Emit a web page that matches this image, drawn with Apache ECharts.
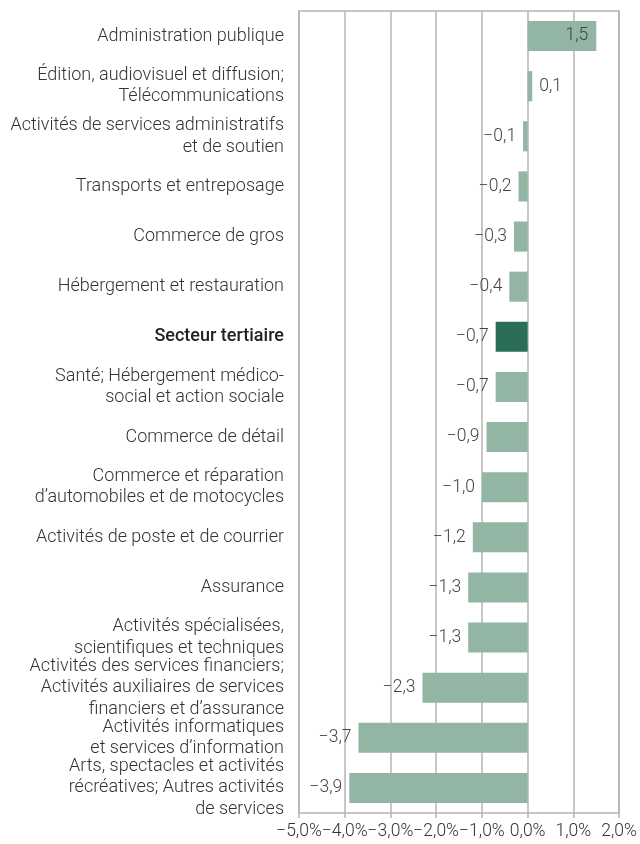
<!DOCTYPE html>
<html>
<head>
<meta charset="utf-8">
<script src="https://cdn.jsdelivr.net/npm/echarts@6/dist/echarts.min.js"></script>
<style>
  html, body { margin: 0; padding: 0; background: #fff; }
  #chart { width: 640px; height: 844px; }
</style>
</head>
<body>
<div id="chart"></div>
<script>
// secteurs, du haut vers le bas
var categories = [
    'Administration publique',
    'Édition, audiovisuel et diffusion;\nTélécommunications',
    'Activités de services administratifs\net de soutien',
    'Transports et entreposage',
    'Commerce de gros',
    'Hébergement et restauration',
    'Secteur tertiaire',
    'Santé; Hébergement médico-\nsocial et action sociale',
    'Commerce de détail',
    'Commerce et réparation\nd’automobiles et de motocycles',
    'Activités de poste et de courrier',
    'Assurance',
    'Activités spécialisées,\nscientifiques et techniques',
    'Activités des services financiers;\nActivités auxiliaires de services\nfinanciers et d’assurance',
    'Activités informatiques\net services d’information',
    'Arts, spectacles et activités\nrécréatives; Autres activités\nde services'
];
var values = [1.5, 0.1, -0.1, -0.2, -0.3, -0.4, -0.7, -0.7, -0.9, -1.0, -1.2, -1.3, -1.3, -2.3, -3.7, -3.9];
var highlight = 'Secteur tertiaire';

function frNum(v, d) {
    return v.toFixed(d).replace('.', ',').replace('-', '\u2212');
}

var barData = values.map(function (v, i) {
    var item = { value: v };
    if (categories[i] === highlight) {
        item.itemStyle = { color: '#2a6e58' };
    }
    if (v > 1) {
        item.label = { position: 'insideRight', distance: 8 };
    } else if (v >= 0) {
        item.label = { position: 'right' };
    } else {
        item.label = { position: 'left' };
    }
    return item;
});

var myChart = echarts.init(document.getElementById('chart'));
var option = {
    animation: false,
    textStyle: { fontFamily: 'Roboto' },
    grid: {
        left: 299, right: 20, top: 11, bottom: 31,
        show: true,
        borderColor: '#b4b4b4',
        borderWidth: 1.5
    },
    xAxis: {
        type: 'value',
        min: -5, max: 2, interval: 1,
        axisLine: { show: false },
        axisTick: { show: true, length: 5, lineStyle: { color: '#b4b4b4', width: 1.5 } },
        splitLine: { show: true, lineStyle: { color: '#b4b4b4', width: 1.5 } },
        axisLabel: {
            color: '#333', fontSize: 17.5, fontWeight: 300, margin: 10,
            hideOverlap: false, showMinLabel: true, showMaxLabel: true,
            formatter: function (v) { return frNum(v, 1) + '%'; }
        }
    },
    yAxis: {
        type: 'category',
        inverse: true,
        data: categories,
        axisLine: { show: false },
        axisTick: { show: false },
        axisLabel: {
            interval: 0,
            color: '#333', fontSize: 18, fontWeight: 300, lineHeight: 21.5, margin: 15, align: 'right',
            formatter: function (v) {
                return v === highlight ? '{b|' + v + '}' : v;
            },
            rich: {
                b: { fontWeight: 500, color: '#222', fontSize: 18 }
            }
        }
    },
    series: [{
        type: 'bar',
        data: barData,
        barWidth: '60%',
        itemStyle: { color: '#93b5a3' },
        label: {
            show: true,
            color: '#444',
            fontSize: 17.5,
            fontWeight: 300,
            distance: 7,
            formatter: function (p) { return frNum(p.value, 1); }
        }
    }]
};
myChart.setOption(option);
</script>
</body>
</html>
